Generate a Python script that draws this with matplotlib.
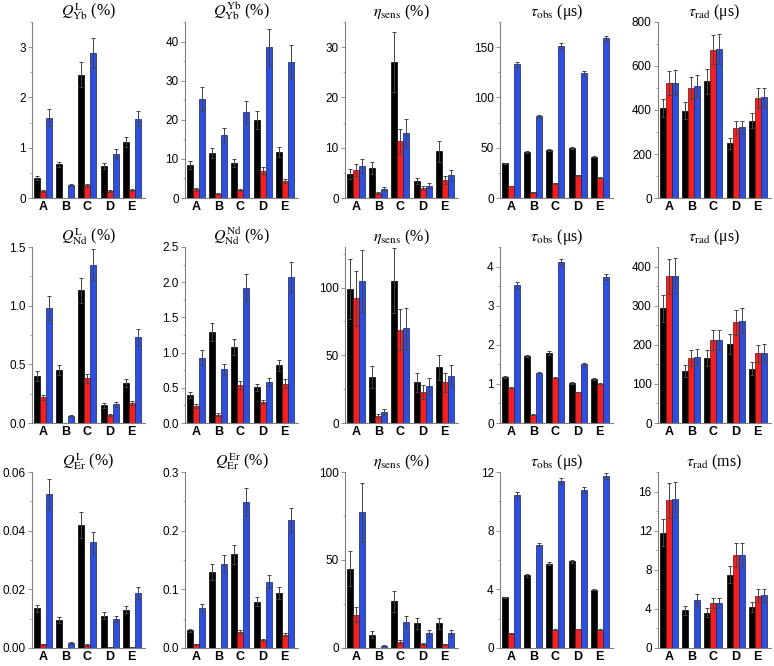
import numpy as np
import matplotlib
matplotlib.use('Agg')
import matplotlib.pyplot as plt
from matplotlib.ticker import AutoMinorLocator, FormatStrFormatter

plt.rcParams['mathtext.fontset'] = 'stix'

groups = ['A', 'B', 'C', 'D', 'E']
nan = np.nan

# ---- row 1 (Yb) ----
ql_yb = [[0.40, 0.67, 2.45, 0.64, 1.11], [0.13, nan, 0.25, 0.13, 0.15], [1.60, 0.25, 2.88, 0.88, 1.58]]
ql_yb_err = [[0.04, 0.05, 0.25, 0.06, 0.10], [0.02, nan, 0.03, 0.02, 0.02], [0.16, 0.02, 0.30, 0.09, 0.15]]
qyb_yb = [[8.4, 11.4, 9.0, 19.9, 11.8], [2.2, 1.1, 2.1, 7.0, 4.4], [25.3, 16.1, 22.1, 38.6, 34.9]]
qyb_yb_err = [[1.0, 1.3, 1.0, 2.3, 1.3], [0.3, 0.2, 0.3, 0.8, 0.5], [3.0, 1.8, 2.8, 4.6, 4.1]]
eta_yb = [[4.8, 5.9, 27.1, 3.3, 9.3], [5.6, 1.0, 11.3, 1.9, 3.6], [6.3, 1.7, 13.0, 2.4, 4.5]]
eta_yb_err = [[1.0, 1.2, 6.0, 0.6, 2.1], [1.2, 0.2, 2.5, 0.4, 0.8], [1.4, 0.4, 2.8, 0.5, 1.0]]
tobs_yb = [[34.5, 45.5, 48.0, 49.5, 41.0], [12.0, 5.5, 14.5, 22.5, 20.0], [133, 81.5, 151, 124, 159]]
tobs_yb_err = [[0.7, 0.8, 0.8, 0.8, 0.7], [0.4, 0.3, 0.4, 0.5, 0.5], [2.5, 1.5, 3.0, 2.5, 2.5]]
trad_yb = [[408, 397, 530, 250, 352], [522, 500, 675, 320, 453], [525, 508, 678, 322, 457]]
trad_yb_err = [[42, 40, 55, 25, 35], [55, 50, 67, 30, 45], [55, 50, 67, 30, 45]]

# ---- row 2 (Nd) ----
ql_nd = [[0.40, 0.45, 1.13, 0.15, 0.34], [0.22, nan, 0.38, 0.07, 0.17], [0.98, 0.06, 1.35, 0.16, 0.73]]
ql_nd_err = [[0.04, 0.045, 0.11, 0.02, 0.035], [0.02, nan, 0.04, 0.007, 0.02], [0.10, 0.006, 0.135, 0.02, 0.075]]
qnd_nd = [[0.40, 1.29, 1.08, 0.51, 0.82], [0.24, 0.12, 0.54, 0.30, 0.56], [0.93, 0.76, 1.92, 0.58, 2.07]]
qnd_nd_err = [[0.04, 0.13, 0.11, 0.05, 0.08], [0.03, 0.015, 0.06, 0.03, 0.06], [0.10, 0.08, 0.19, 0.06, 0.21]]
eta_nd = [[99, 34, 105, 30, 41], [92, 5.5, 69, 23, 30], [105, 8, 70, 27.5, 35]]
eta_nd_err = [[22, 8, 24, 7, 9], [20, 1.5, 15, 5, 7], [23, 2, 15, 6, 8]]
tobs_nd = [[1.18, 1.71, 1.79, 1.02, 1.13], [0.90, 0.21, 1.16, 0.79, 1.00], [3.53, 1.29, 4.11, 1.50, 3.73]]
tobs_nd_err = [[0.02, 0.02, 0.04, 0.02, 0.02], [0.01, 0.01, 0.01, 0.01, 0.01], [0.07, 0.02, 0.08, 0.03, 0.07]]
trad_nd = [[293, 133, 166, 202, 139], [375, 166, 212, 258, 178], [377, 168, 213, 261, 180]]
trad_nd_err = [[35, 16, 20, 25, 17], [45, 20, 25, 32, 21], [45, 20, 25, 32, 21]]

# ---- row 3 (Er) ----
ql_er = [[0.0135, 0.0095, 0.042, 0.011, 0.013], [0.0012, nan, 0.001, 0.0003, 0.0004], [0.0525, 0.0017, 0.036, 0.0098, 0.0188]]
ql_er_err = [[0.0012, 0.001, 0.0045, 0.0012, 0.0012], [0.0002, nan, 0.0002, 0.0001, 0.0001], [0.005, 0.0002, 0.0035, 0.001, 0.002]]
qer_er = [[0.030, 0.130, 0.160, 0.079, 0.094], [0.006, nan, 0.027, 0.014, 0.023], [0.068, 0.144, 0.249, 0.113, 0.218]]
qer_er_err = [[0.003, 0.014, 0.016, 0.008, 0.010], [0.001, nan, 0.003, 0.002, 0.003], [0.007, 0.014, 0.024, 0.011, 0.020]]
eta_er = [[45, 7.5, 26.5, 14, 14], [19, nan, 3.5, 2.5, 2.0], [77, 1.3, 15, 8.5, 8.5]]
eta_er_err = [[10, 2, 6, 3, 3], [4.5, nan, 1.0, 0.6, 0.5], [17, 0.3, 3.3, 2, 2]]
tobs_er = [[3.45, 4.95, 5.75, 5.90, 3.98], [1.00, nan, 1.25, 1.30, 1.25], [10.45, 7.05, 11.4, 10.8, 11.7]]
tobs_er_err = [[0.05, 0.08, 0.10, 0.10, 0.05], [0.02, nan, 0.02, 0.02, 0.02], [0.18, 0.12, 0.20, 0.20, 0.20]]
trad_er = [[11.8, 3.85, 3.6, 7.5, 4.2], [15.1, nan, 4.6, 9.5, 5.35], [15.2, 4.9, 4.6, 9.55, 5.4]]
trad_er_err = [[1.4, 0.45, 0.45, 0.9, 0.5], [1.8, nan, 0.55, 1.2, 0.65], [1.8, 0.6, 0.55, 1.2, 0.65]]

panels = [
    [(ql_yb, ql_yb_err, r'$Q_{\mathrm{Yb}}^{\mathrm{L}}$ (%)', 3.5, np.arange(0, 3.1, 1), '%d'),
     (qyb_yb, qyb_yb_err, r'$Q_{\mathrm{Yb}}^{\mathrm{Yb}}$ (%)', 45, np.arange(0, 41, 10), '%d'),
     (eta_yb, eta_yb_err, r'$\eta_{\mathrm{sens}}$ (%)', 35, np.arange(0, 31, 10), '%d'),
     (tobs_yb, tobs_yb_err, r'$\tau_{\mathrm{obs}}$ (μs)', 175, np.arange(0, 151, 50), '%d'),
     (trad_yb, trad_yb_err, r'$\tau_{\mathrm{rad}}$ (μs)', 800, np.arange(0, 801, 200), '%d')],
    [(ql_nd, ql_nd_err, r'$Q_{\mathrm{Nd}}^{\mathrm{L}}$ (%)', 1.5, np.arange(0, 1.51, 0.5), '%.1f'),
     (qnd_nd, qnd_nd_err, r'$Q_{\mathrm{Nd}}^{\mathrm{Nd}}$ (%)', 2.5, np.arange(0, 2.51, 0.5), '%.1f'),
     (eta_nd, eta_nd_err, r'$\eta_{\mathrm{sens}}$ (%)', 130, np.arange(0, 101, 50), '%d'),
     (tobs_nd, tobs_nd_err, r'$\tau_{\mathrm{obs}}$ (μs)', 4.5, np.arange(0, 4.1, 1), '%d'),
     (trad_nd, trad_nd_err, r'$\tau_{\mathrm{rad}}$ (μs)', 450, np.arange(0, 401, 100), '%d')],
    [(ql_er, ql_er_err, r'$Q_{\mathrm{Er}}^{\mathrm{L}}$ (%)', 0.06, np.arange(0, 0.061, 0.02), '%.2f'),
     (qer_er, qer_er_err, r'$Q_{\mathrm{Er}}^{\mathrm{Er}}$ (%)', 0.3, np.arange(0, 0.31, 0.1), '%.1f'),
     (eta_er, eta_er_err, r'$\eta_{\mathrm{sens}}$ (%)', 100, np.arange(0, 101, 50), '%d'),
     (tobs_er, tobs_er_err, r'$\tau_{\mathrm{obs}}$ (μs)', 12, np.arange(0, 12.1, 4), '%d'),
     (trad_er, trad_er_err, r'$\tau_{\mathrm{rad}}$ (ms)', 18, np.arange(0, 16.1, 4), '%d')],
]

colors = ['#000000', '#f2201e', '#2d4fdb']
edges = ['#000000', '#7a0a0a', '#10206a']

W, H = 774, 666
col_left = [32, 185, 345, 500, 658]
row_top = [22, 247, 472]
ax_w, ax_h = 113, 176

fig = plt.figure(figsize=(W / 100, H / 100), dpi=100)
x = np.arange(len(groups))
bw = 0.27

for r, row in enumerate(panels):
    for c, (vals, errs, title, ytop, ticks, fmt) in enumerate(row):
        ax = fig.add_axes([col_left[c] / W, 1 - (row_top[r] + ax_h) / H, ax_w / W, ax_h / H])
        for k in range(3):
            v = np.array(vals[k], dtype=float)
            e = np.array(errs[k], dtype=float)
            xs = x + (k - 1) * bw
            ax.bar(xs, np.nan_to_num(v), width=bw, color=colors[k],
                   edgecolor=edges[k], linewidth=0.5, zorder=2)
            ax.errorbar(xs, v, yerr=e, fmt='none', ecolor='#444444',
                        elinewidth=0.7, capsize=1.5, capthick=0.7, zorder=3)
        ax.set_xlim(-0.5, 4.6)
        ax.set_ylim(0, ytop)
        ax.set_yticks(ticks)
        ax.yaxis.set_major_formatter(FormatStrFormatter(fmt))
        ax.yaxis.set_minor_locator(AutoMinorLocator(2))
        ax.set_xticks(x)
        ax.set_xticklabels(groups, fontweight='bold', fontsize=9, family='Liberation Sans')
        for lab in ax.get_yticklabels():
            lab.set_family('Liberation Sans')
        ax.tick_params(axis='y', labelsize=8.5, length=3, width=0.6, color='#808080', pad=1.5)
        ax.tick_params(axis='y', which='minor', length=1.8, width=0.5, color='#808080')
        ax.tick_params(axis='x', length=0, pad=2)
        for s in ['top', 'right']:
            ax.spines[s].set_visible(False)
        for s in ['left', 'bottom']:
            ax.spines[s].set_color('#808080')
            ax.spines[s].set_linewidth(0.8)
        ax.set_title(title, fontsize=11.5, family='Liberation Serif', pad=3)

fig.savefig('out.png', dpi=100)
